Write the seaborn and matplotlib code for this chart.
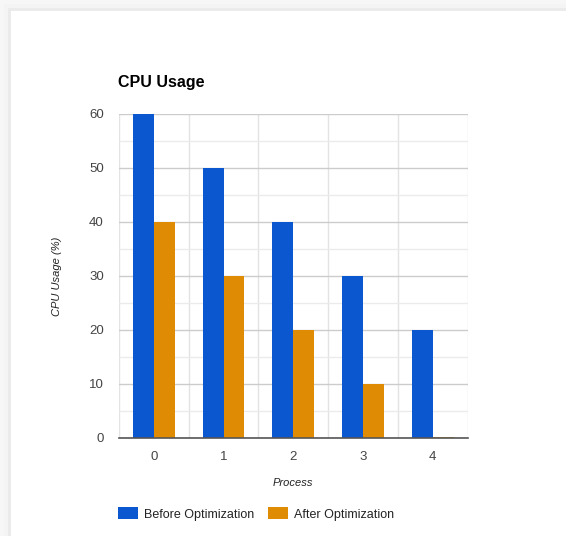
import matplotlib
matplotlib.use("Agg")
import matplotlib.pyplot as plt
from matplotlib.patches import Rectangle
import numpy as np
import pandas as pd
import seaborn as sns

# Data
processes = [0, 1, 2, 3, 4]
before_opt = [60, 50, 40, 30, 20]
after_opt = [40, 30, 20, 10, 0]
series_names = ["Before Optimization", "After Optimization"]
series_colors = ["#0b57d0", "#e08b04"]
y_ticks = [0, 10, 20, 30, 40, 50, 60]

df = pd.DataFrame({
    "Process": processes * 2,
    "CPU": before_opt + after_opt,
    "Series": [series_names[0]] * len(processes) + [series_names[1]] * len(processes),
})

sns.set_theme(style="white")
plt.rcParams["font.family"] = ["Liberation Sans", "DejaVu Sans"]

W, H = 566, 536
fig = plt.figure(figsize=(W / 100, H / 100), dpi=100)
fig.patch.set_facecolor("white")

# Card shadow along the top and left edges
def px_rect(x0, y0, w, h, color):
    fig.add_artist(Rectangle((x0 / W, 1 - (y0 + h) / H), w / W, h / H,
                             transform=fig.transFigure, facecolor=color,
                             edgecolor="none", zorder=-10))

px_rect(0, 0, W, 11, "#f4f4f4")
px_rect(0, 0, 11, H, "#f4f4f4")
px_rect(8, 8, W - 8, 3, "#ebebeb")
px_rect(8, 8, 3, H - 8, "#ebebeb")
px_rect(0, 0, W, 4, "#f7f7f7")
px_rect(0, 0, 4, H, "#f7f7f7")

ax = fig.add_axes([119 / W, 1 - 438 / H, (467.5 - 119) / W, (438 - 114) / H])

sns.barplot(data=df, x="Process", y="CPU", hue="Series", hue_order=series_names,
            palette=series_colors, saturation=1, width=0.6, linewidth=0,
            ax=ax, zorder=3)

# A zero-height bar still shows as a thin line on the baseline
for p in ax.patches:
    if p.get_height() == 0 and p.get_width() > 0:
        p.set_edgecolor(p.get_facecolor())
        p.set_linewidth(1.2)

ax.set_xlim(-0.5, 4.5)
ax.set_ylim(0, 60)
ax.set_yticks(y_ticks)
ax.set_yticks(np.arange(0, 61, 5), minor=True)
ax.set_xticks(np.arange(-0.5, 4.6, 0.5), minor=True)
ax.set_xticks(range(len(processes)))
ax.set_xticklabels([str(p) for p in processes])

ax.grid(True, which="major", axis="y", color="#cccccc", linewidth=1, zorder=0)
ax.grid(True, which="minor", axis="y", color="#ebebeb", linewidth=1, zorder=0)
ax.grid(True, which="minor", axis="x", color="#e3e3e3", linewidth=1, zorder=0)
ax.set_axisbelow(True)

for side in ["left", "right", "top"]:
    ax.spines[side].set_visible(False)
ax.spines["bottom"].set_color("#555555")
ax.spines["bottom"].set_linewidth(1.2)
ax.spines["bottom"].set_zorder(4)

ax.tick_params(axis="both", which="both", length=0, labelsize=9.5, labelcolor="#444444")
ax.tick_params(axis="y", pad=11)
ax.tick_params(axis="x", pad=9)

ax.set_xlabel("")
ax.set_ylabel("")
fig.text(293 / W, 1 - 483 / H, "Process", ha="center", va="center",
         fontsize=8, fontstyle="italic", color="#222222")
fig.text(57 / W, 1 - 276 / H, "CPU Usage (%)", ha="center", va="center",
         rotation=90, fontsize=8, fontstyle="italic", color="#222222")
fig.text(118 / W, 1 - 82 / H, "CPU Usage", ha="left", va="center",
         fontsize=11.5, fontweight="bold", color="#000000")

sns.move_legend(ax, "center left", bbox_to_anchor=(118 / W, 1 - 514 / H),
                bbox_transform=fig.transFigure, ncol=2, frameon=False, title=None,
                fontsize=9, handlelength=1.6, handleheight=1.1,
                handletextpad=0.5, columnspacing=1.1, borderpad=0, borderaxespad=0)
for t in ax.get_legend().get_texts():
    t.set_color("#222222")

fig.savefig("out.png", dpi=100)
